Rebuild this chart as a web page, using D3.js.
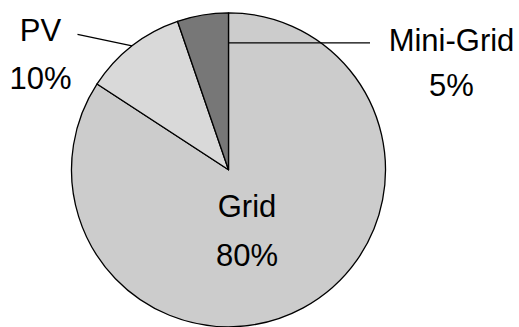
<!DOCTYPE html>
<html>
<head>
<meta charset="utf-8">
<script src="https://cdn.jsdelivr.net/npm/d3@7"></script>
<style>
  html, body { margin: 0; padding: 0; background: #ffffff; }
  svg { display: block; }
  text { font-family: "Liberation Sans", Arial, sans-serif; fill: #000; }
</style>
</head>
<body>
<svg id="chart" width="519" height="327"></svg>
<script>
// Electricity source shares
const categories = ["Grid", "PV", "Mini-Grid"];
const shares = [80, 10, 5];
const shareLabels = ["80%", "10%", "5%"];
const fills = ["#cccccc", "#d9d9d9", "#777777"];

const cx = 228.5, cy = 169.8, radius = 157;
const fontSize = 31;

const svg = d3.select("#chart");
const g = svg.append("g").attr("transform", `translate(${cx},${cy})`);

const pie = d3.pie().sort(null).value(d => d.value);
const arcs = pie(categories.map((c, i) => ({ name: c, value: shares[i], label: shareLabels[i], fill: fills[i] })));
const arc = d3.arc().innerRadius(0).outerRadius(radius);

g.selectAll("path.slice")
  .data(arcs)
  .join("path")
  .attr("class", "slice")
  .attr("d", arc)
  .attr("fill", d => d.data.fill)
  .attr("stroke", "#000")
  .attr("stroke-width", 1.3)
  .attr("stroke-linejoin", "round");

// Label placement (offsets from the pie centre): name line, value line
const labelPos = {
  "Grid":      { x: 18.5,  y1: 47.5,  y2: 96.5 },
  "PV":        { x: -188,  y1: -128.8, y2: -80.5 },
  "Mini-Grid": { x: 223,   y1: -119.2, y2: -73.8 }
};

const labels = g.selectAll("g.lbl")
  .data(arcs)
  .join("g")
  .attr("class", "lbl");

labels.append("text")
  .attr("x", d => labelPos[d.data.name].x)
  .attr("y", d => labelPos[d.data.name].y1)
  .attr("text-anchor", "middle")
  .attr("font-size", fontSize)
  .text(d => d.data.name);

labels.append("text")
  .attr("x", d => labelPos[d.data.name].x)
  .attr("y", d => labelPos[d.data.name].y2)
  .attr("text-anchor", "middle")
  .attr("font-size", fontSize)
  .text(d => d.data.label);

// PV leader: from beside the label to the rim at the slice's mid-angle
const pvArc = arcs.find(a => a.data.name === "PV");
const pvMid = (pvArc.startAngle + pvArc.endAngle) / 2;
g.append("line")
  .attr("x1", -151).attr("y1", -135.5)
  .attr("x2", Math.sin(pvMid) * radius).attr("y2", -Math.cos(pvMid) * radius)
  .attr("stroke", "#000").attr("stroke-width", 1.3);

// Mini-Grid leader: horizontal line running into the slice
g.append("line")
  .attr("x1", 0).attr("y1", -127)
  .attr("x2", 141.5).attr("y2", -127)
  .attr("stroke", "#000").attr("stroke-width", 1.3);
</script>
</body>
</html>
